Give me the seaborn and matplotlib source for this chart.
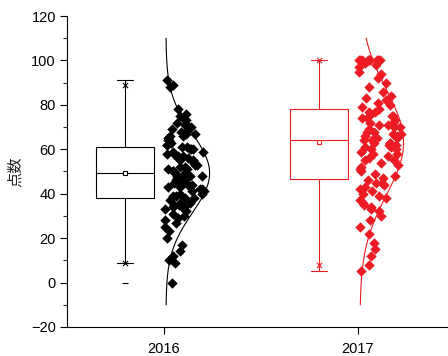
import seaborn as sns
import matplotlib.pyplot as plt
import matplotlib.ticker as mticker
import numpy as np

# data: scores per year
years = ["2016", "2017"]
colors = ["#000000", "#ED1C24"]

scores_2016 = [0, 9, 10, 12, 14, 17, 20, 23, 25, 27, 28, 29, 30, 31, 32, 33, 33, 34, 34, 35,
               35, 36, 36, 37, 38,
               38, 39, 39, 40, 40, 41, 41, 42, 42, 43, 43, 44, 44, 45, 45, 45, 46, 46, 47, 47,
               48, 48, 48, 49, 49,
               50, 50, 51, 51, 52, 52, 53, 53, 54, 54, 55, 55, 56, 56, 57, 57, 58, 58, 59, 59,
               60, 60, 60, 61, 61,
               62, 62, 63, 64, 64, 65, 66, 66, 67, 67, 68, 68, 69, 70, 70, 71, 72, 73, 74, 75,
               76, 78, 88, 89, 91]

scores_2017 = [5, 8, 12, 15, 18, 22, 25, 28, 30, 32, 33, 34, 35, 36, 37, 38, 39, 40, 41, 42,
               43, 44, 45, 45, 46,
               47, 48, 49, 50, 51, 52, 53, 54, 55, 55, 56, 57, 58, 58, 59, 60, 60, 61, 61, 62,
               62, 63, 63, 63, 64,
               64, 65, 65, 66, 66, 67, 67, 68, 68, 69, 70, 70, 71, 71, 72, 72, 73, 74, 74, 75,
               75, 76, 77, 77, 78,
               79, 80, 81, 82, 83, 84, 86, 88, 90, 92, 94, 95, 97, 98, 99,
               100, 100, 100, 100, 100, 100, 100, 100, 100, 100]

groups = [scores_2016, scores_2017]

sns.set_style("ticks")
plt.rcParams["font.family"] = ["Liberation Sans", "Noto Sans CJK JP", "DejaVu Sans"]
plt.rcParams["font.size"] = 10.5
np.random.seed(3)  # only for the jitter of the points

fig = plt.figure(figsize=(4.48, 3.56), dpi=100)
ax = fig.add_axes([67 / 448, 29 / 356, 388 / 448, 311 / 356])

for i, (vals, c) in enumerate(zip(groups, colors)):
    vals = np.asarray(vals, dtype=float)
    n = len(vals)

    # box on the left of the tick
    sns.boxplot(
        x=np.full(n, i - 0.2), y=vals, native_scale=True,
        fill=False, color=c, linecolor=c, width=0.3, linewidth=0.8, whis=1.5,
        showmeans=True,
        meanprops=dict(marker="s", markerfacecolor="white", markeredgecolor=c,
                       markersize=3.5, markeredgewidth=0.8),
        flierprops=dict(marker="_", markeredgecolor=c, markersize=5, markeredgewidth=0.8),
        capwidths=0.085,
        ax=ax,
    )
    p1, p99 = np.percentile(vals, [1, 99])
    ax.scatter([i - 0.2, i - 0.2], [p1, p99], marker="x", s=14, color=c, linewidths=0.8, zorder=4)

    # normal curve on the right of the tick
    mu, sd = vals.mean(), vals.std(ddof=1)
    yy = np.linspace(-10, 110, 200)
    pdf = np.exp(-0.5 * ((yy - mu) / sd) ** 2)
    ax.plot(i + 0.01 + 0.225 * pdf, yy, color=c, lw=0.8, zorder=3)

    # data points beside the box, spread inside the curve
    n_before = len(ax.collections)
    sns.stripplot(
        x=np.full(n, i), y=vals, native_scale=True, jitter=0.5,
        marker="D", size=5.3, color=c, linewidth=0, ax=ax, zorder=2,
    )
    coll = ax.collections[n_before]
    off = coll.get_offsets().copy()
    u = off[:, 0] - i + 0.5
    dens = np.exp(-0.5 * ((off[:, 1] - mu) / sd) ** 2)
    off[:, 0] = i + u * (0.07 + 0.16 * dens)
    coll.set_offsets(off)

ax.set_xlim(-0.5, 1.5)
ax.set_ylim(-20, 120)
ax.set_xticks([0, 1])
ax.set_xticklabels(years)
ax.yaxis.set_major_locator(mticker.MultipleLocator(20))
ax.yaxis.set_minor_locator(mticker.MultipleLocator(10))
ax.tick_params(axis="both", direction="out", length=5, width=0.8, colors="black", pad=3)
ax.tick_params(axis="y", which="minor", length=3, width=0.8)
ax.tick_params(axis="x", pad=6)
ax.set_xlabel("")
ax.set_ylabel("点数", fontsize=11, labelpad=6)

for s in ["top", "right"]:
    ax.spines[s].set_visible(False)
for s in ["left", "bottom"]:
    ax.spines[s].set_color("black")
    ax.spines[s].set_linewidth(0.8)

fig.savefig("out.png", dpi=100)
plt.close(fig)
